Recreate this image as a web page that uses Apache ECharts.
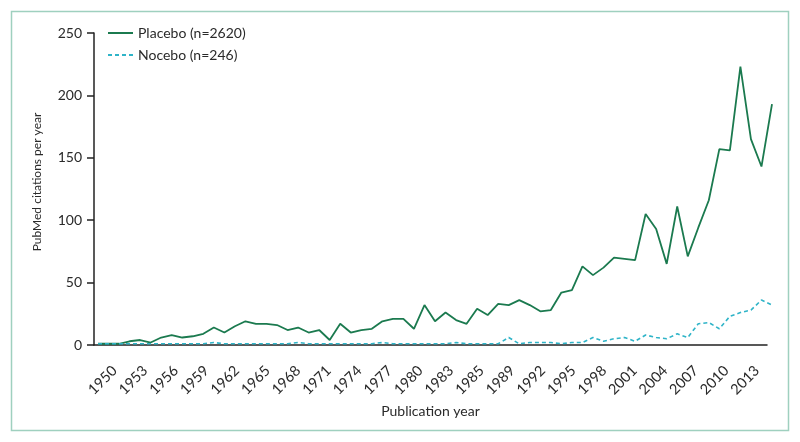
<!DOCTYPE html>
<html>
<head>
<meta charset="utf-8">
<script src="https://cdn.jsdelivr.net/npm/echarts@6/dist/echarts.min.js"></script>
<style>
    html, body { margin: 0; padding: 0; background: #fff; }
    #chart { width: 800px; height: 442px; }
</style>
</head>
<body>
<div id="chart"></div>
<script>
// years of the series
const years = [
    1950, 1951, 1952, 1953, 1954, 1955, 1956, 1957, 1958, 1959,
    1960, 1961, 1962, 1963, 1964, 1965, 1966, 1967, 1968, 1969,
    1970, 1971, 1972, 1973, 1974, 1975, 1976, 1977, 1978, 1979,
    1980, 1981, 1982, 1983, 1984, 1985, 1986, 1987, 1988, 1989,
    1990, 1991, 1992, 1993, 1994, 1995, 1996, 1997, 1998, 1999,
    2000, 2001, 2002, 2003, 2004, 2005, 2006, 2007, 2008, 2009,
    2010, 2011, 2012, 2013, 2014
]

// PubMed citations per year
const placebo = [
    1, 1, 1, 3, 4, 2, 6, 8, 6, 7,
    9, 14, 10, 15, 19, 17, 17, 16, 12, 14,
    10, 12, 4, 17, 10, 12, 13, 19, 21, 21,
    13, 32, 19, 26, 20, 17, 29, 24, 33, 32,
    36, 32, 27, 28, 42, 44, 63, 56, 62, 70,
    69, 68, 105, 93, 65, 111, 71, 94, 116, 157,
    156, 223, 165, 143, 193
]
const nocebo = [
    1, 1, 1, 1, 1, 1, 1, 1, 1, 1,
    1, 2, 1, 1, 1, 1, 1, 1, 1, 2,
    1, 1, 1, 1, 1, 1, 1, 2, 1, 1,
    1, 1, 1, 1, 2, 1, 1, 1, 1, 6,
    1, 2, 2, 2, 1, 2, 2, 6, 3, 5,
    6, 3, 8, 6, 5, 9, 6, 17, 18, 13,
    23, 26, 28, 36, 32
]

// x tick labels (as printed)
const tickLabels = [
    '1950', '1953', '1956', '1959', '1962', '1965', '1968', '1971', '1974', '1977', '1980',
    '1983', '1985', '1989', '1992', '1995', '1998', '2001', '2004', '2007', '2010', '2013'
]

const font = 'Lato, "Open Sans", sans-serif'
const ink = '#2a2a2a'
const axisColor = '#222'

const chart = echarts.init(document.getElementById('chart'))
chart.setOption({
    animation: false,
    textStyle: { fontFamily: font },
    graphic: [
        {
            type: 'rect',
            shape: { x: 11.5, y: 11.5, width: 777, height: 419 },
            style: { fill: 'none', stroke: '#9fd0bf', lineWidth: 1.5 },
            silent: true,
        },
    ],
    legend: {
        orient: 'vertical',
        left: 102,
        top: 21,
        itemWidth: 25,
        itemHeight: 14,
        itemGap: 8,
        itemStyle: { opacity: 0 },
        textStyle: { fontFamily: font, fontSize: 14, color: ink },
    },
    // grid 0 carries the printed axes, grid 1 carries the lines
    grid: [
        { left: 94, right: 33, top: 33, bottom: 97 },
        { left: 94, right: 28, top: 33, bottom: 97 },
    ],
    xAxis: [
        {
            type: 'category',
            gridIndex: 0,
            data: tickLabels,
            boundaryGap: true,
            name: 'Publication year',
            nameLocation: 'middle',
            nameGap: 55,
            nameTextStyle: { fontFamily: font, fontSize: 14, color: ink },
            axisLine: { lineStyle: { color: axisColor, width: 1.5 } },
            axisTick: { interval: 0, length: 7, lineStyle: { color: axisColor, width: 1.5 } },
            axisLabel: {
                interval: 0,
                rotate: 45,
                margin: 18,
                verticalAlign: 'top',
                fontFamily: font,
                fontSize: 14.5,
                color: ink,
            },
        },
        {
            type: 'value',
            gridIndex: 1,
            min: 1949.62,
            max: 2014,
            show: false,
        },
    ],
    yAxis: [
        {
            type: 'value',
            gridIndex: 0,
            min: 0,
            max: 250,
            interval: 50,
            name: 'PubMed citations per year',
            nameLocation: 'middle',
            nameGap: 51,
            nameTextStyle: { fontFamily: font, fontSize: 12, color: ink, padding: [0, 0, 0, 14] },
            axisLine: { show: true, lineStyle: { color: axisColor, width: 1.5 } },
            axisTick: { show: true, length: 7, lineStyle: { color: axisColor, width: 1.5 } },
            axisLabel: { margin: 12, fontFamily: font, fontSize: 14, color: ink },
            splitLine: { show: false },
        },
        {
            type: 'value',
            gridIndex: 1,
            min: 0,
            max: 250,
            show: false,
        },
    ],
    series: [
        {
            name: 'Placebo (n=2620)',
            type: 'line',
            xAxisIndex: 1,
            yAxisIndex: 1,
            symbol: 'none',
            data: years.map((y, i) => [y, placebo[i]]),
            lineStyle: { color: '#1b7a4f', width: 1.8 },
            itemStyle: { color: '#1b7a4f' },
        },
        {
            name: 'Nocebo (n=246)',
            type: 'line',
            xAxisIndex: 1,
            yAxisIndex: 1,
            symbol: 'none',
            data: years.map((y, i) => [y, nocebo[i]]),
            lineStyle: { color: '#2fb4c8', width: 1.6, type: [4, 3] },
            itemStyle: { color: '#2fb4c8' },
        },
    ],
})
</script>
</body>
</html>
